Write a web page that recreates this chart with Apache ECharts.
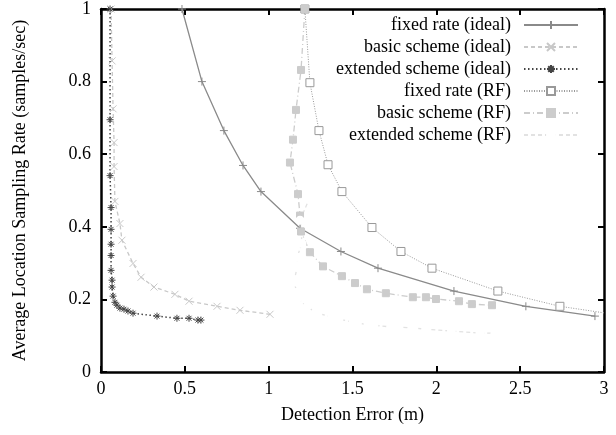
<!DOCTYPE html>
<html>
  <head>
    <meta charset="utf-8">
    <title>Detection error vs sampling rate</title>
    <script src="https://cdn.jsdelivr.net/npm/echarts@6/dist/echarts.min.js"></script>
  </head>
  <body style="margin:0">
      <div id="main" style="width:616px; height:435px;"></div>
      <script>
          var seriesNames = ['fixed rate (ideal)', 'basic scheme (ideal)', 'extended scheme (ideal)',
                             'fixed rate (RF)', 'basic scheme (RF)', 'extended scheme (RF)']

          // detection error (m) / sampling rate (samples/sec)
          var fixedIdealX = [0.483, 0.602, 0.733, 0.847, 0.954, 1.187, 1.431, 1.652, 2.105, 2.534, 2.946]
          var fixedIdealY = [1.0, 0.80, 0.665, 0.569, 0.497, 0.396, 0.332, 0.286, 0.223, 0.181, 0.154]

          var basicIdealX = [0.06, 0.066, 0.072, 0.078, 0.078, 0.083, 0.113, 0.125, 0.191, 0.239, 0.316, 0.441, 0.525, 0.692, 0.829, 1.008]
          var basicIdealY = [1.0, 0.857, 0.725, 0.632, 0.566, 0.470, 0.409, 0.363, 0.299, 0.261, 0.234, 0.214, 0.195, 0.181, 0.170, 0.159]

          var extIdealX = [0.054, 0.054, 0.054, 0.06, 0.06, 0.06, 0.06, 0.06, 0.066, 0.066, 0.072, 0.083, 0.095, 0.113, 0.137, 0.161, 0.191, 0.334, 0.453, 0.525, 0.578, 0.596]
          var extIdealY = [1.0, 0.695, 0.541, 0.453, 0.393, 0.352, 0.321, 0.280, 0.253, 0.234, 0.209, 0.192, 0.184, 0.176, 0.173, 0.168, 0.162, 0.154, 0.148, 0.148, 0.143, 0.143]

          var fixedRfX = [1.216, 1.246, 1.30, 1.354, 1.437, 1.616, 1.789, 1.974, 2.367, 2.737, 3.13]
          var fixedRfY = [1.0, 0.797, 0.665, 0.571, 0.497, 0.398, 0.332, 0.286, 0.223, 0.181, 0.154]

          var basicRfX = [1.216, 1.193, 1.163, 1.145, 1.127, 1.175, 1.187, 1.193, 1.246, 1.324, 1.437, 1.515, 1.586, 1.699, 1.860, 1.938, 1.998, 2.135, 2.212, 2.332]
          var basicRfY = [1.0, 0.832, 0.722, 0.640, 0.577, 0.490, 0.431, 0.387, 0.330, 0.291, 0.264, 0.245, 0.228, 0.217, 0.206, 0.206, 0.201, 0.195, 0.187, 0.184]

          var extRfX = [1.246, 1.187, 1.199, 1.169, 1.169, 1.151, 1.169, 1.175, 1.228, 1.294, 1.377, 1.419, 1.503, 1.527, 1.592, 1.628, 1.729, 1.765, 1.866, 1.938, 2.09, 2.260, 2.349]
          var extRfY = [0.481, 0.418, 0.354, 0.316, 0.288, 0.247, 0.220, 0.203, 0.179, 0.162, 0.151, 0.146, 0.137, 0.137, 0.129, 0.129, 0.124, 0.124, 0.121, 0.118, 0.113, 0.107, 0.107]

          var zip = function(xs, ys) {
              var out = []
              for (var i = 0; i < xs.length; i++) {
                  out.push([xs[i], ys[i]])
              }
              return out
          }

          var plus = 'path://M0,5 L10,5 M5,0 L5,10'
          var cross = 'path://M0,0 L10,10 M10,0 L0,10'
          var star = 'path://M0,5 L10,5 M5,0 L5,10 M1.5,1.5 L8.5,8.5 M8.5,1.5 L1.5,8.5'

          var font = 'Liberation Serif'

          var line = function(name, xs, ys, color, type, symbol, size, fill, width) {
              return {
                  name: name,
                  type: 'line',
                  data: zip(xs, ys),
                  symbol: symbol,
                  symbolSize: size,
                  lineStyle: { color: color, type: type, width: width || 1 },
                  itemStyle: { color: fill, borderColor: color, borderWidth: 1 },
                  emphasis: { disabled: true },
                  z: 3
              }
          }

          var hiddenAxis = {
              axisLabel: { show: false },
              axisLine: { onZero: false, lineStyle: { color: '#000', width: 2.5 } },
              axisTick: { inside: true, length: 6, lineStyle: { color: '#000', width: 2 } },
              splitLine: { show: false }
          }

          var option = {
              animation: false,
              textStyle: { fontFamily: font },
              grid: { left: 101, right: 12, top: 8, bottom: 63 },
              legend: {
                  orient: 'vertical',
                  right: 32,
                  top: 11,
                  align: 'right',
                  itemWidth: 54,
                  itemHeight: 10,
                  itemGap: 4,
                  textStyle: { fontFamily: font, fontSize: 18, lineHeight: 18, color: '#000', padding: [0, 8, 0, 0] },
                  data: seriesNames
              },
              xAxis: [
                  {
                      type: 'value', min: 0, max: 3, interval: 0.5,
                      name: 'Detection Error (m)',
                      nameLocation: 'middle', nameGap: 34,
                      nameTextStyle: { fontFamily: font, fontSize: 18, color: '#000' },
                      axisLabel: { fontFamily: font, fontSize: 18, color: '#000', margin: 8 },
                      axisLine: { onZero: false, lineStyle: { color: '#000', width: 2.5 } },
                      axisTick: { inside: true, length: 6, lineStyle: { color: '#000', width: 2 } },
                      splitLine: { show: false }
                  },
                  Object.assign({ type: 'value', min: 0, max: 3, interval: 0.5, position: 'top' }, hiddenAxis)
              ],
              yAxis: [
                  {
                      type: 'value', min: 0, max: 1, interval: 0.2,
                      name: 'Average Location Sampling Rate (samples/sec)',
                      nameLocation: 'middle', nameGap: 72,
                      nameTextStyle: { fontFamily: font, fontSize: 18, color: '#000' },
                      axisLabel: { fontFamily: font, fontSize: 18, color: '#000', margin: 10 },
                      axisLine: { onZero: false, lineStyle: { color: '#000', width: 2.5 } },
                      axisTick: { inside: true, length: 6, lineStyle: { color: '#000', width: 2 } },
                      splitLine: { show: false }
                  },
                  Object.assign({ type: 'value', min: 0, max: 1, interval: 0.2, position: 'right' }, hiddenAxis)
              ],
              series: [
                  line(seriesNames[0], fixedIdealX, fixedIdealY, '#8a8a8a', 'solid', plus, 8, 'rgba(0,0,0,0)', 1.3),
                  line(seriesNames[1], basicIdealX, basicIdealY, '#c8c8c8', [4, 3], cross, 7, 'rgba(0,0,0,0)', 1.3),
                  line(seriesNames[2], extIdealX, extIdealY, '#444444', [1.5, 2.5], star, 7, 'rgba(0,0,0,0)', 1.5),
                  line(seriesNames[3], fixedRfX, fixedRfY, '#999999', [1, 1.5], 'rect', 8, '#ffffff', 1),
                  line(seriesNames[4], basicRfX, basicRfY, '#cccccc', [6, 3, 1, 3], 'rect', 7, '#cccccc', 1.3),
                  line(seriesNames[5], extRfX, extRfY, '#e2e2e2', [4, 3], 'emptyCircle', 7, '#ffffff', 1.3)
              ]
          }

          var myChart = echarts.init(document.querySelector('#main'))
          myChart.setOption(option)
      </script>
  </body>
</html>
